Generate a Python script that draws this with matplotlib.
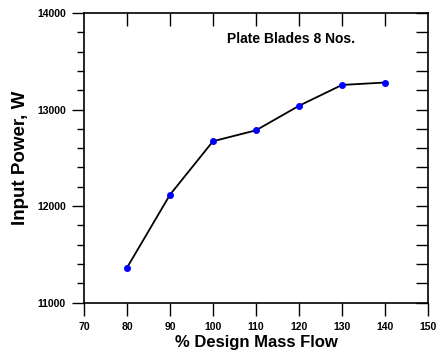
import matplotlib
matplotlib.use("Agg")
import matplotlib.pyplot as plt
from matplotlib.ticker import MultipleLocator

plt.rcParams['font.family'] = ['Liberation Sans', 'DejaVu Sans']
plt.rcParams['font.weight'] = 'bold'

# data
mass_flow = [80, 90, 100, 110, 120, 130, 140]
input_power = [11362, 12118, 12672, 12785, 13039, 13255, 13280]
x_ticks = [70, 80, 90, 100, 110, 120, 130, 140, 150]
y_ticks = [11000, 12000, 13000, 14000]

fig = plt.figure(figsize=(4.37, 3.6), dpi=100)
ax = fig.add_axes([0.1922, 0.1592, 0.7872, 0.8047])

ax.plot(mass_flow, input_power, color='black', lw=1.3, zorder=2)
ax.plot(mass_flow, input_power, 'o', color='blue', ms=4, zorder=3)

ax.set_xlim(70, 150)
ax.set_ylim(11000, 14000)
ax.set_xticks(x_ticks)
ax.set_yticks(y_ticks)
ax.yaxis.set_minor_locator(MultipleLocator(200))

# bottom/left ticks point out, top/right point in
ax.tick_params(axis='x', which='major', direction='out', length=9, width=1,
               labelsize=7.5, pad=5)
ax.tick_params(axis='y', which='major', direction='out', length=9, width=1,
               labelsize=7.5, pad=4)
ax.tick_params(axis='y', which='minor', direction='out', length=5, width=1)

# inward ticks on top and right
axt = ax.secondary_xaxis('top')
axt.set_xticks(x_ticks[1:-1])
axt.tick_params(direction='in', length=9, width=1, labeltop=False)
axr = ax.secondary_yaxis('right')
axr.set_yticks(y_ticks)
axr.yaxis.set_minor_locator(MultipleLocator(200))
axr.tick_params(which='both', direction='in', length=9, width=1, labelright=False)

for sp in ax.spines.values():
    sp.set_linewidth(1.2)
axt.spines['top'].set_visible(False)
axr.spines['right'].set_visible(False)

ax.set_xlabel('% Design Mass Flow', fontsize=12, fontweight='bold', labelpad=2)
ax.set_ylabel('Input Power, W', fontsize=13.5, fontweight='bold', labelpad=6)

ax.text(0.603, 0.91, 'Plate Blades 8 Nos.', transform=ax.transAxes,
        ha='center', va='center', fontsize=10, fontweight='bold')

fig.savefig('out.png', dpi=100)
